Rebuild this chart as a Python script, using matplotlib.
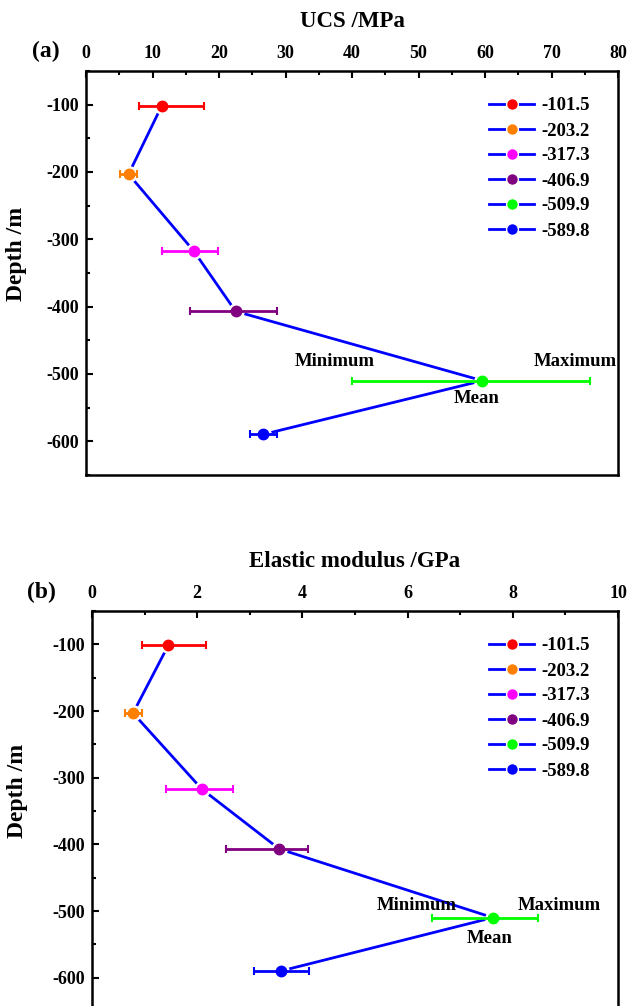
import matplotlib
matplotlib.use("Agg")
import matplotlib.pyplot as plt
from matplotlib.lines import Line2D
from matplotlib.ticker import MultipleLocator

plt.rcParams['font.family'] = ['Liberation Serif', 'DejaVu Serif']
plt.rcParams['font.weight'] = 'bold'
plt.rcParams['axes.unicode_minus'] = False

# Data
depths = [-101.5, -203.2, -317.3, -406.9, -509.9, -589.8]
depth_labels = ['-101.5', '-203.2', '-317.3', '-406.9', '-509.9', '-589.8']
colors = ['#ff0000', '#ff8000', '#ff00ff', '#800080', '#00ff00', '#0000ff']

ucs_mean = [11.4, 6.4, 16.2, 22.5, 59.6, 26.6]
ucs_min = [8.0, 5.1, 11.4, 15.7, 40.0, 24.6]
ucs_max = [17.7, 7.7, 19.8, 28.7, 75.8, 28.7]

e_mean = [1.45, 0.78, 2.09, 3.56, 7.62, 3.60]
e_min = [0.95, 0.62, 1.40, 2.54, 6.47, 3.08]
e_max = [2.16, 0.95, 2.68, 4.10, 8.47, 4.13]

W, H = 630, 1006
fig = plt.figure(figsize=(W / 100, H / 100), dpi=100)


def px_axes(left, top, right, bottom):
    return fig.add_axes([left / W, 1 - bottom / H, (right - left) / W, (bottom - top) / H])


def draw_panel(ax, mean, lo, hi, xmax, xmajor, xminor, xlabel, tag, tag_xy,
               min_xy, max_xy, mean_xy, ylab_xy, leg_anchor):
    ax.plot(mean, depths, color='#0000ff', lw=2, zorder=2)
    for m, l, h, d, c in zip(mean, lo, hi, depths, colors):
        ax.plot(m, d, 'o', ms=11, color='white', zorder=3)
        ax.errorbar(m, d, xerr=[[m - l], [h - m]], fmt='none', ecolor=c,
                    elinewidth=2, capsize=3, capthick=1.5, zorder=4)
        ax.plot(m, d, 'o', ms=7.5, color=c, zorder=5)

    ax.set_xlim(0, xmax)
    ax.set_ylim(-650, -50)
    ax.xaxis.tick_top()
    ax.xaxis.set_label_position('top')
    ax.xaxis.set_major_locator(MultipleLocator(xmajor))
    ax.xaxis.set_minor_locator(MultipleLocator(xminor))
    ax.yaxis.set_major_locator(MultipleLocator(100))
    ax.yaxis.set_minor_locator(MultipleLocator(50))
    ax.tick_params(which='both', direction='in', width=1.5, labelsize=13)
    ax.tick_params(which='major', length=5)
    ax.tick_params(which='minor', length=3)
    ax.tick_params(axis='x', pad=6.5)
    ax.tick_params(axis='y', pad=5)
    for s in ax.spines.values():
        s.set_linewidth(1.8)

    ax.set_xlabel(xlabel, fontsize=16.5, fontweight='bold', labelpad=13)
    ax.set_ylabel('Depth /m', fontsize=17, fontweight='bold')
    ax.yaxis.set_label_coords(*ylab_xy)
    ax.text(tag_xy[0], tag_xy[1], tag, transform=fig.transFigure, fontsize=17,
            fontweight='bold', ha='center', va='center')

    ax.text(*min_xy, 'Minimum', fontsize=13.5, fontweight='bold', ha='center', va='center')
    ax.text(*max_xy, 'Maximum', fontsize=13.5, fontweight='bold', ha='center', va='center')
    ax.text(*mean_xy, 'Mean', fontsize=13.5, fontweight='bold', ha='center', va='center')

    # legend handles: blue line with coloured dot, small white gap round the dot
    handles = [Line2D([], [], color='#0000ff', lw=2, marker='o', ms=8.5,
                      markerfacecolor=c, markeredgecolor='white', markeredgewidth=1)
               for c in colors]
    ax.legend(handles, depth_labels, loc='upper left', bbox_to_anchor=leg_anchor,
              frameon=False, fontsize=13.5, handlelength=2.4, handletextpad=0.35,
              labelspacing=0.42, borderpad=0)


ax1 = px_axes(86, 71, 618, 475)
draw_panel(ax1, ucs_mean, ucs_min, ucs_max, 80, 10, 5, 'UCS /MPa', '(a)',
           (46 / W, 1 - 51 / H),
           (37.4, -482), (73.6, -482), (58.7, -536),
           (-0.111, 0.546), ((480 - 86) / 532, (475 - 88) / 404))

ax2 = px_axes(92, 611, 618, 1011)
draw_panel(ax2, e_mean, e_min, e_max, 10, 2, 1, 'Elastic modulus /GPa', '(b)',
           (41 / W, 1 - 592 / H),
           (6.17, -491), (8.89, -491), (7.56, -541),
           (-0.122, 0.55), ((480 - 92) / 526, (1011 - 628) / 400))

fig.savefig('out.png', dpi=100)
